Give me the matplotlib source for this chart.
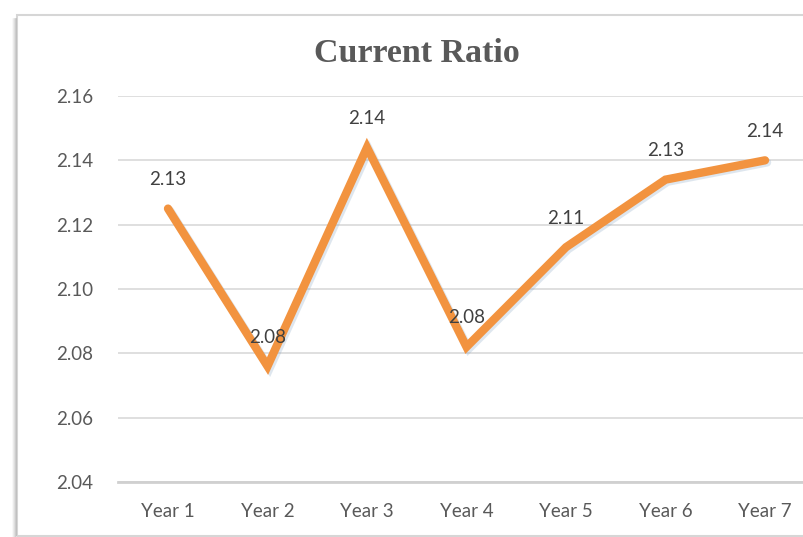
import matplotlib
matplotlib.use("Agg")
import matplotlib.pyplot as plt
import matplotlib.patheffects as pe
from matplotlib.patches import Rectangle

# data
years = ["Year 1", "Year 2", "Year 3", "Year 4", "Year 5", "Year 6", "Year 7"]
ratio = [2.125, 2.076, 2.144, 2.082, 2.113, 2.134, 2.140]
ratio_labels = ["2.13", "2.08", "2.14", "2.08", "2.11", "2.13", "2.14"]
yticks = [2.04, 2.06, 2.08, 2.10, 2.12, 2.14, 2.16]

W, H = 804, 537


def main():
    fig = plt.figure(figsize=(W / 100, H / 100), dpi=100)
    fig.patch.set_facecolor("white")

    # chart frame with a soft shadow on the left side
    for i, a in enumerate([0.06, 0.12, 0.2, 0.3]):
        fig.add_artist(plt.Line2D([(13 + i) / W] * 2, [1 - 19 / H, 0], transform=fig.transFigure,
                                  color="#808080", alpha=a, lw=1.2))
    fig.add_artist(Rectangle((17 / W, 1 - 536 / H), 1.0, (536 - 15) / H, transform=fig.transFigure,
                             fill=False, edgecolor="#d6d6d6", lw=1.5))

    ax = fig.add_axes([118.25 / W, 55 / H, 7 * 99.5 / W, 386 / H])
    x = list(range(len(years)))
    ax.plot(x, ratio, color="#F2933F", lw=6, solid_joinstyle="miter", solid_capstyle="round",
            zorder=3,
            path_effects=[pe.SimpleLineShadow(offset=(1.5, -1.5), shadow_color="#7f9fbf", alpha=0.25),
                          pe.Normal()])

    for xi, yi, lab in zip(x, ratio, ratio_labels):
        ax.annotate(lab, (xi, yi), xytext=(0, 21), textcoords="offset points",
                    ha="center", va="center", fontsize=13.5, family="Lato", color="#404040", zorder=4)

    ax.set_xlim(-0.5, 6.5)
    ax.set_ylim(2.04, 2.16)
    ax.set_yticks(yticks)
    ax.set_yticklabels(["%.2f" % v for v in yticks])
    ax.set_xticks(x)
    ax.set_xticklabels(years)
    ax.tick_params(length=0, labelsize=13.5, labelcolor="#595959")
    ax.tick_params(axis="y", pad=18)
    ax.tick_params(axis="x", pad=15)
    for lab in ax.get_xticklabels() + ax.get_yticklabels():
        lab.set_family("Lato")

    ax.yaxis.grid(True, color="#d9d9d9", lw=1.2)
    ax.set_axisbelow(True)
    for s in ["top", "right", "left"]:
        ax.spines[s].set_visible(False)
    ax.spines["bottom"].set_color("#d0d0d0")
    ax.spines["bottom"].set_linewidth(2)

    fig.text(417 / W, 1 - 53 / H, "Current Ratio", ha="center", va="center",
             fontsize=24.5, fontweight="bold", family="Liberation Serif", color="#595959")

    fig.savefig("out.png", dpi=100)


if __name__ == '__main__':
    main()
